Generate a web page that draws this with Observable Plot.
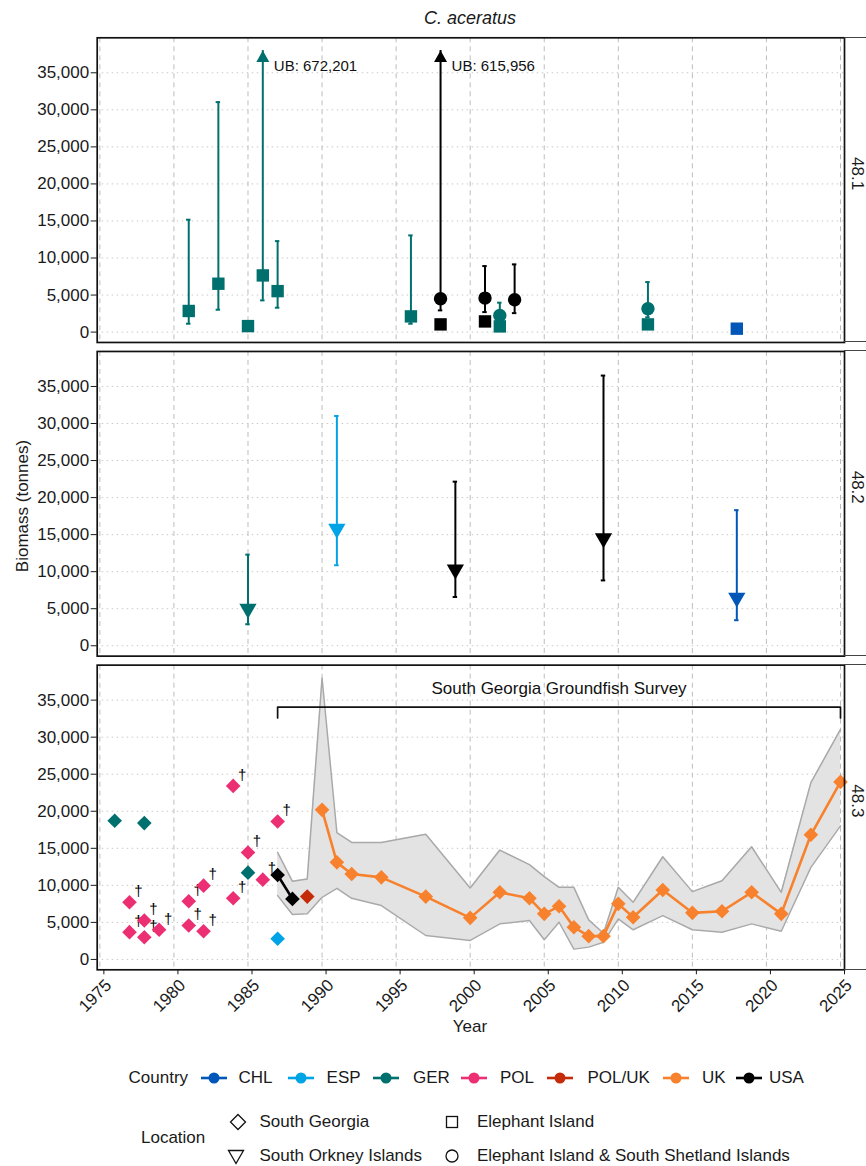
<!DOCTYPE html>
<html><head><meta charset="utf-8">
<script src="https://cdn.jsdelivr.net/npm/d3@7"></script>
<script src="https://cdn.jsdelivr.net/npm/@observablehq/plot@0.6"></script>
<style>
body{margin:0;background:#fff;font-family:"Liberation Sans",Arial,sans-serif;color:#1a1a1a;}
#wrap{position:relative;width:866px;height:1166px;overflow:hidden;background:#fff}
.abs{position:absolute;white-space:nowrap;line-height:20px;font-size:17px}
</style></head><body><div id="wrap"></div>
<script>
// ---------- data ----------
const xTicks = [1975,1980,1985,1990,1995,2000,2005,2010,2015,2020,2025];
const yTicks = [0,5000,10000,15000,20000,25000,30000,35000];
const panels = ["48.1","48.2","48.3"];
const countries = ["CHL","ESP","GER","POL","POL/UK","UK","USA"];
const countryColors = ["#0057B7","#00A3E6","#00706E","#EC2F72","#C42B09","#F7812C","#000000"];
const locations = ["South Georgia","South Orkney Islands","Elephant Island","Elephant Island & South Shetland Islands"];

// Subarea 48.1
const s481Year     = [1981,1983,1985,1986,1987,1996,1998,1998,2001,2001,2002,2002,2003,2012,2012,2018];
const s481Country  = ["GER","GER","GER","GER","GER","GER","USA","USA","USA","USA","GER","GER","USA","GER","GER","CHL"];
const s481Location = ["Elephant Island","Elephant Island","Elephant Island","Elephant Island","Elephant Island","Elephant Island",
  "Elephant Island & South Shetland Islands","Elephant Island","Elephant Island & South Shetland Islands","Elephant Island",
  "Elephant Island & South Shetland Islands","Elephant Island","Elephant Island & South Shetland Islands",
  "Elephant Island & South Shetland Islands","Elephant Island","Elephant Island"];
const s481Biomass  = [2850,6530,810,7650,5530,2120,4500,1040,4590,1440,2250,770,4370,3160,1040,460];
const s481Lower    = [1130,3020,null,4280,3290,1130,2930,null,2700,null,1500,null,2560,2000,null,null];
const s481Upper    = [15170,31040,null,672201,12280,13050,615956,null,8910,null,3970,null,9140,6750,null,null];

// Subarea 48.2
const s482Year     = [1985,1991,1999,2009,2018];
const s482Country  = ["GER","ESP","USA","USA","CHL"];
const s482Location = ["South Orkney Islands","South Orkney Islands","South Orkney Islands","South Orkney Islands","South Orkney Islands"];
const s482Biomass  = [5000,15800,10300,14500,6500];
const s482Lower    = [2910,10870,6580,8820,3450];
const s482Upper    = [12300,31010,22150,36470,18300];

// Subarea 48.3 single surveys
const s483Year     = [1976,1978,1985,1977,1977,1978,1978,1979,1981,1981,1982,1982,1984,1984,1985,1986,1987,1987,1988,1987,1989];
const s483Country  = ["GER","GER","GER","POL","POL","POL","POL","POL","POL","POL","POL","POL","POL","POL","POL","POL","POL","USA","USA","ESP","POL/UK"];
const s483Biomass  = [18710,18400,11710,7710,3680,5250,3000,4000,7850,4580,9960,3810,23420,8250,14440,10770,18610,11400,8170,2790,8480];
const s483Note     = ["","","","†","†","†","†","†","†","†","†","†","†","†","†","†","†","","","",""];

// South Georgia Groundfish Survey (UK)
const ukYear    = [1990,1991,1992,1994,1997,2000,2002,2004,2005,2006,2007,2008,2009,2010,2011,2013,2015,2017,2019,2021,2023,2025];
const ukBiomass = [20190,13100,11530,11080,8480,5610,9060,8250,6150,7170,4350,3140,3140,7500,5690,9380,6290,6500,9060,6150,16820,23960];
const ribbonYear  = [1987,1988,1989,1990,1991,1992,1994,1997,2000,2002,2004,2005,2006,2007,2008,2009,2010,2011,2013,2015,2017,2019,2021,2023,2025];
const ribbonLower = [8610,6060,6150,8390,9600,8250,7270,3230,2560,4800,5250,2650,5020,1390,1660,2330,5470,4000,5920,4000,3680,4800,3810,12420,18030];
const ribbonUpper = [14440,10540,10860,37990,17130,15790,15790,16910,9650,14760,12790,11170,9730,9730,5340,3540,9730,7710,13860,9150,10630,15210,9060,23860,31050];

const surveyName = "South Georgia Groundfish Survey";
const surveySpan = [1987, 2025];
const bracketLevel = 34050, bracketDrop = 1450, surveyLabelLevel = 36500;
const arrowTop = 38000, ubLabelLevel = 35850;

// ---------- build tables ----------
const rows = [];
s481Year.forEach((y,i)=>rows.push({panel:"48.1",year:y,country:s481Country[i],location:s481Location[i],biomass:s481Biomass[i],lo:s481Lower[i],hi:s481Upper[i],note:""}));
s482Year.forEach((y,i)=>rows.push({panel:"48.2",year:y,country:s482Country[i],location:s482Location[i],biomass:s482Biomass[i],lo:s482Lower[i],hi:s482Upper[i],note:""}));
s483Year.forEach((y,i)=>rows.push({panel:"48.3",year:y,country:s483Country[i],location:"South Georgia",biomass:s483Biomass[i],lo:null,hi:null,note:s483Note[i]}));
ukYear.forEach((y,i)=>rows.push({panel:"48.3",year:y,country:"UK",location:"South Georgia",biomass:ukBiomass[i],lo:null,hi:null,note:""}));
const ribbon = ribbonYear.map((y,i)=>({panel:"48.3",year:y,lo:ribbonLower[i],hi:ribbonUpper[i]}));
const lineRows = rows.filter(d=>d.panel==="48.3" && (d.country==="UK"||d.country==="USA")).sort((a,b)=>a.year-b.year);
const errs = rows.filter(d=>d.lo!=null);
const capped = errs.filter(d=>d.hi<=arrowTop);
const ub = errs.filter(d=>d.hi>arrowTop);
const bracket = [[surveySpan[0],bracketLevel-bracketDrop],[surveySpan[0],bracketLevel],[surveySpan[1],bracketLevel],[surveySpan[1],bracketLevel-bracketDrop]]
  .map(([x,y])=>({panel:"48.3",year:x,v:y}));
const surveyLabel = [{panel:"48.3",year:(surveySpan[0]+surveySpan[1])/2,v:surveyLabelLevel,t:surveyName}];
const strips = panels.map(p=>({panel:p}));

// ---------- symbols ----------
const symSquare = {draw(c){const a=6.2;c.moveTo(-a,-a);c.lineTo(a,-a);c.lineTo(a,a);c.lineTo(-a,a);c.closePath();}};
const symDiamond = {draw(c){const h=7.3;c.moveTo(0,-h);c.lineTo(h,0);c.lineTo(0,h);c.lineTo(-h,0);c.closePath();}};
const symCircle = {draw(c){const r=6.7;c.moveTo(r,0);c.arc(0,0,r,0,2*Math.PI);c.closePath();}};
const symTriDown = {draw(c){const k=6.4;c.moveTo(-1.347*k,-0.778*k);c.lineTo(1.347*k,-0.778*k);c.lineTo(0,1.555*k);c.closePath();}};
const symArrow = {draw(c){c.moveTo(0,0);c.lineTo(6.5,11.5);c.lineTo(-6.5,11.5);c.closePath();}};
const symFor = {"South Georgia":symDiamond,"South Orkney Islands":symTriDown,"Elephant Island":symSquare,"Elephant Island & South Shetland Islands":symCircle};

// ---------- layout ----------
const W = 866, H = 1045;
const frameTop = 37.3, frameBottom = 969.3, frameLeft = 96.7, frameRight = 844;
const capHalf = 0.15;

const dotLayers = ["Elephant Island","Elephant Island & South Shetland Islands","South Orkney Islands","South Georgia"].map(loc =>
  Plot.dot(rows.filter(d=>d.location===loc), {x:"year", y:"biomass", fy:"panel", fill:"country", stroke:"none", r:5, symbol:symFor[loc]}));

const chart = Plot.plot({
  width: W, height: H,
  marginTop: frameTop, marginBottom: H-frameBottom, marginLeft: frameLeft, marginRight: W-frameRight,
  style: {fontFamily:"'Liberation Sans', Arial, sans-serif", fontSize:"17px", color:"#1a1a1a", background:"white", overflow:"visible"},
  x: {domain:[1974.82, 2025.27]},
  y: {domain:[-1400, 39723]},
  fy: {domain: panels, paddingInner: 0.0287, paddingOuter: 0, axis: null, round: false},
  color: {domain: countries, range: countryColors},
  marks: [
    Plot.gridX({ticks: xTicks, stroke:"#bdbdbd", strokeOpacity:1, strokeDasharray:"5 4", strokeWidth:1}),
    Plot.gridY({ticks: yTicks, stroke:"#c9c9c9", strokeOpacity:1, strokeDasharray:"1.5 3.5", strokeWidth:1}),
    Plot.areaY(ribbon, {x:"year", y1:"lo", y2:"hi", fy:"panel", fill:"#e3e3e3"}),
    Plot.line(ribbon, {x:"year", y:"lo", fy:"panel", stroke:"#a9a9a9", strokeWidth:1.5}),
    Plot.line(ribbon, {x:"year", y:"hi", fy:"panel", stroke:"#a9a9a9", strokeWidth:1.5}),
    Plot.line(bracket, {x:"year", y:"v", fy:"panel", stroke:"#111", strokeWidth:1.7}),
    Plot.text(surveyLabel, {x:"year", y:"v", fy:"panel", text:"t", fontSize:17, fill:"#111"}),
    Plot.line(lineRows, {x:"year", y:"biomass", fy:"panel", stroke:"country", strokeWidth:2.6}),
    Plot.ruleX(errs, {x:"year", y1:"lo", y2:d=>Math.min(d.hi,arrowTop), fy:"panel", stroke:"country", strokeWidth:2}),
    Plot.ruleY(errs, {y:"lo", x1:d=>d.year-capHalf, x2:d=>d.year+capHalf, fy:"panel", stroke:"country", strokeWidth:2}),
    Plot.ruleY(capped, {y:"hi", x1:d=>d.year-capHalf, x2:d=>d.year+capHalf, fy:"panel", stroke:"country", strokeWidth:2}),
    Plot.dot(ub, {x:"year", y:()=>arrowTop, fy:"panel", fill:"country", stroke:"none", r:5, symbol:symArrow}),
    Plot.text(ub, {x:"year", y:()=>ubLabelLevel, fy:"panel", text:d=>"UB: "+d3.format(",")(d.hi), textAnchor:"start", dx:11, fontSize:15, fill:"#111"}),
    Plot.text(rows.filter(d=>d.note), {x:"year", y:"biomass", fy:"panel", text:"note", dx:9, dy:-11, fontSize:15, fill:"#000"}),
    ...dotLayers,
    Plot.text(strips, {fy:"panel", text:"panel", frameAnchor:"right", dx:13, rotate:90, fontSize:17, fill:"#1a1a1a"}),
    Plot.axisY({ticks: yTicks, tickFormat: d3.format(","), tickSize:6, tickPadding:2, label:null, fontSize:17}),
    Plot.axisX({ticks: xTicks, tickFormat: d=>String(d), tickSize:5, tickPadding:3, tickRotate:-45, textAnchor:"end", lineAnchor:"top", label:null, fontSize:17, dx:4}),
    Plot.frame({stroke:"#111", strokeWidth:1.7})
  ]
});

const wrap = document.getElementById("wrap");
chart.style.position = "absolute"; chart.style.left = "0"; chart.style.top = "0";
wrap.appendChild(chart);

function addText(txt, left, top, extra) {
  const d = document.createElement("div");
  d.className = "abs"; d.textContent = txt;
  d.style.left = left + "px"; d.style.top = top + "px";
  if (extra) Object.assign(d.style, extra);
  wrap.appendChild(d); return d;
}
// title, axis titles
addText("C. aceratus", 470, 18, {transform:"translate(-50%,-50%)", fontStyle:"italic", fontSize:"18px"});
addText("Biomass (tonnes)", 22.5, 506, {transform:"translate(-50%,-50%) rotate(-90deg)"});
addText("Year", 470, 1027, {transform:"translate(-50%,-50%)"});

// strip borders
const step = (frameBottom-frameTop)/(3-0.0287), band = step*(1-0.0287);
panels.forEach((p,i)=>{
  [frameTop+i*step, frameTop+i*step+band].forEach(y=>{
    const l = document.createElement("div");
    Object.assign(l.style,{position:"absolute",left:frameRight+"px",top:(y-0.5)+"px",width:(W-frameRight)+"px",height:"1px",background:"#444"});
    wrap.appendChild(l);
  });
});

// ---------- legends ----------
const svgNS = "http://www.w3.org/2000/svg";
function swatch(left, cy, w, h, build) {
  const s = document.createElementNS(svgNS, "svg");
  s.setAttribute("width", w); s.setAttribute("height", h);
  s.style.position = "absolute"; s.style.left = left + "px"; s.style.top = (cy - h/2) + "px";
  s.innerHTML = build; wrap.appendChild(s);
}
const legY = 1078;
addText("Country", 128.6, legY-10);
const swX = [200, 287, 372, 460, 546, 662, 735];
const txX = [238.5, 326.6, 413, 500, 587.5, 702, 769];
countries.forEach((c,i)=>{
  const col = countryColors[i];
  swatch(swX[i], legY, 28, 16, `<line x1="1" y1="8" x2="27" y2="8" stroke="${col}" stroke-width="2.6"/><circle cx="14" cy="8" r="5.5" fill="${col}"/>`);
  addText(c, txX[i], legY-10);
});
addText("Location", 141, 1138-10);
const locLegend = [
  {name:"South Georgia", sx:238, tx:259.5, y:1122, svg:`<path d="M9,1.5 L16.5,9 L9,16.5 L1.5,9 Z" fill="none" stroke="#111" stroke-width="1.3"/>`},
  {name:"Elephant Island", sx:452, tx:477, y:1122, svg:`<rect x="3.5" y="3.5" width="11" height="11" fill="none" stroke="#111" stroke-width="1.3"/>`},
  {name:"South Orkney Islands", sx:236, tx:259.5, y:1156, svg:`<path d="M1.5,3.5 L16.5,3.5 L9,16.5 Z" fill="none" stroke="#111" stroke-width="1.3"/>`},
  {name:"Elephant Island & South Shetland Islands", sx:452, tx:477, y:1156, svg:`<circle cx="9" cy="9" r="6" fill="none" stroke="#111" stroke-width="1.3"/>`}
];
locLegend.forEach(o=>{
  swatch(o.sx-9, o.y, 18, 18, o.svg);
  addText(o.name, o.tx, o.y-10);
});
</script></body></html>
